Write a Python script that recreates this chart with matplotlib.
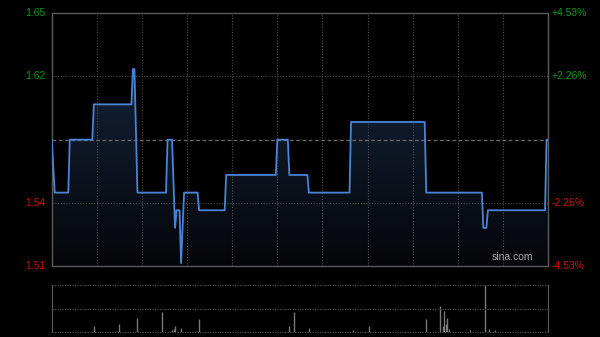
import matplotlib
matplotlib.use("Agg")
import matplotlib.pyplot as plt
import numpy as np
from matplotlib.patches import Polygon

# price line vertices (minute of trading session, price)
minutes = [0, 2, 11, 12, 27, 28, 53, 54, 55, 57, 76, 77, 80, 82, 83, 85, 86, 88,
           97, 98, 115, 116, 149, 150, 157, 158, 170, 171, 198, 199, 248, 249,
           286, 287, 289, 290, 328, 329, 330]
prices = [1.58, 1.55, 1.55, 1.58, 1.58, 1.60, 1.60, 1.62, 1.62, 1.55, 1.55, 1.58,
          1.58, 1.53, 1.54, 1.54, 1.51, 1.55, 1.55, 1.54, 1.54, 1.56, 1.56, 1.58,
          1.58, 1.56, 1.56, 1.55, 1.55, 1.59, 1.59, 1.55, 1.55, 1.53, 1.53, 1.54,
          1.54, 1.58, 1.58]

# volume bars
vol_minutes = [28, 45, 57, 73, 80, 81, 82, 86, 98, 158, 161, 171, 200, 211, 249,
               258, 260, 261, 262, 263, 264, 278, 288, 291, 295]
volumes = [63, 77, 140, 197, 20, 27, 63, 43, 130, 63, 203, 43, 17, 63, 130,
           260, 63, 210, 83, 140, 27, 17, 470, 27, 17]

prev_close = 1.58
pct = 0.0453
left_labels = ["1.65", "1.62", "", "1.54", "1.51"]
right_labels = ["+4.53%", "+2.26%", "", "-2.26%", "-4.53%"]

GREEN = "#119911"
RED = "#cc1100"
GRID = "#4a4a4a"
FRAME = "#5a5a5a"

fig = plt.figure(figsize=(6, 3.37), dpi=100, facecolor="black")
ax = fig.add_axes([0.0862, 0.2107, 0.8272, 0.7498], facecolor="black")
axv = fig.add_axes([0.0862, 0.0148, 0.8272, 0.1395], facecolor="black")

ymin, ymax = prev_close * (1 - pct), prev_close * (1 + pct)
ticks = np.linspace(ymax, ymin, 5)
ax.set_xlim(0, 330)
ax.set_ylim(ymin, ymax)

# gradient fill under the line
grad = np.linspace(1, 0, 256).reshape(-1, 1)
top_c = np.array([0.075, 0.13, 0.22])
bot_c = np.array([0.02, 0.025, 0.035])
img = bot_c + (top_c - bot_c) * grad[..., None]
im = ax.imshow(img, extent=[0, 330, ymin, max(prices)], aspect="auto", zorder=1,
               origin="upper")
verts = [(minutes[0], ymin)] + list(zip(minutes, prices)) + [(minutes[-1], ymin)]
clip = Polygon(verts, closed=True, transform=ax.transData, facecolor="none", edgecolor="none")
ax.add_patch(clip)
im.set_clip_path(clip)

ax.plot(minutes, prices, color="#4a84d6", lw=1.3, zorder=3)

for m in range(30, 330, 30):
    ax.axvline(m, color=GRID, lw=0.8, ls=(0, (1, 1.5)), zorder=2)
for t in (ticks[1], ticks[3]):
    ax.axhline(t, color=GRID, lw=0.8, ls=(0, (1, 1.5)), zorder=2)
ax.axhline(prev_close, color="#6a6a6a", lw=0.9, ls=(0, (3, 2)), zorder=2)

for s in ax.spines.values():
    s.set_color(FRAME)
    s.set_linewidth(1)
ax.set_xticks([])
ax.set_yticks([])

for t, lab, rlab, i in zip(ticks, left_labels, right_labels, range(5)):
    if not lab:
        continue
    c = GREEN if i < 2 else RED
    ax.text(-0.012, t, lab, transform=ax.get_yaxis_transform(), ha="right", va="center",
            color=c, fontsize=7.5, family="Liberation Sans")
    ax.text(1.008, t, rlab, transform=ax.get_yaxis_transform(), ha="left", va="center",
            color=c, fontsize=7.5, family="Liberation Sans")

ax.text(0.97, 0.015, "sina.com", transform=ax.transAxes, ha="right", va="bottom",
        color="#aaaaaa", fontsize=7.5, family="Liberation Sans", zorder=4)

# volume panel
axv.set_xlim(0, 330)
axv.set_ylim(0, max(volumes))
axv.vlines(vol_minutes, 0, volumes, color="#7a7a7a", lw=1)
for y in (0, max(volumes) / 2, max(volumes)):
    axv.axhline(y, color=GRID, lw=0.9, ls=(0, (1, 1)), clip_on=False)
for k, s in axv.spines.items():
    s.set_color(FRAME)
    s.set_visible(k in ("left", "right"))
axv.set_xticks([])
axv.set_yticks([])

fig.savefig("out.png", dpi=100, facecolor="black")
